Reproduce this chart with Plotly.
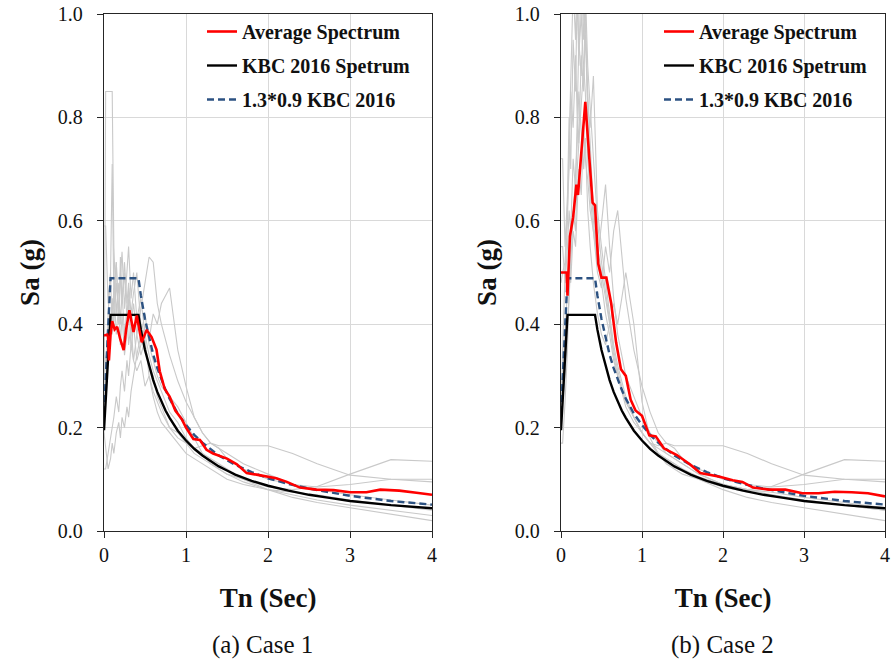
import plotly.graph_objects as go

# ---------------- data ----------------
period_grey = [0, 0.02, 0.05, 0.08, 0.1, 0.12, 0.15, 0.18, 0.2, 0.22, 0.25, 0.28, 0.3, 0.33,
               0.36, 0.4, 0.45, 0.5, 0.55, 0.6, 0.65, 0.7, 0.8, 0.9, 1.0, 1.1, 1.2, 1.3, 1.4,
               1.5, 1.7, 2.0, 2.3, 2.6, 3.0, 3.5, 4.0]

# Case 1 ground-motion records
rec1_a = [0.18, 0.85, 0.85, 0.85, 0.85, 0.55, 0.42, 0.48, 0.40, 0.46, 0.38, 0.43, 0.36, 0.40, 0.33, 0.31, 0.33, 0.28, 0.30, 0.26, 0.23, 0.21, 0.19, 0.17, 0.15, 0.14, 0.13, 0.12, 0.11, 0.10, 0.09, 0.08, 0.07, 0.06, 0.05, 0.04, 0.03]
rec1_b = [0.20, 0.30, 0.42, 0.50, 0.71, 0.45, 0.52, 0.40, 0.53, 0.44, 0.50, 0.41, 0.47, 0.40, 0.44, 0.38, 0.34, 0.37, 0.30, 0.27, 0.25, 0.23, 0.20, 0.18, 0.17, 0.16, 0.165, 0.17, 0.165, 0.165, 0.165, 0.165, 0.15, 0.13, 0.108, 0.10, 0.095]
rec1_c = [0.59, 0.59, 0.44, 0.50, 0.38, 0.46, 0.52, 0.40, 0.49, 0.54, 0.43, 0.51, 0.55, 0.45, 0.50, 0.41, 0.45, 0.38, 0.34, 0.31, 0.29, 0.27, 0.23, 0.21, 0.18, 0.16, 0.15, 0.14, 0.13, 0.12, 0.10, 0.085, 0.08, 0.086, 0.11, 0.138, 0.135]
rec1_d = [0.12, 0.12, 0.15, 0.18, 0.20, 0.22, 0.26, 0.23, 0.28, 0.31, 0.27, 0.33, 0.30, 0.36, 0.33, 0.38, 0.43, 0.48, 0.53, 0.52, 0.44, 0.40, 0.34, 0.29, 0.25, 0.22, 0.19, 0.17, 0.16, 0.14, 0.12, 0.10, 0.09, 0.085, 0.09, 0.10, 0.10]
rec1_e = [0.19, 0.16, 0.12, 0.14, 0.17, 0.15, 0.19, 0.21, 0.18, 0.22, 0.20, 0.24, 0.22, 0.27, 0.30, 0.34, 0.38, 0.42, 0.36, 0.33, 0.30, 0.28, 0.26, 0.24, 0.21, 0.18, 0.15, 0.13, 0.12, 0.11, 0.10, 0.08, 0.065, 0.055, 0.045, 0.032, 0.02]
rec1_f = [0.30, 0.33, 0.36, 0.42, 0.40, 0.47, 0.38, 0.44, 0.36, 0.42, 0.34, 0.38, 0.45, 0.35, 0.40, 0.33, 0.36, 0.40, 0.37, 0.42, 0.40, 0.44, 0.47, 0.35, 0.28, 0.22, 0.19, 0.17, 0.16, 0.15, 0.13, 0.11, 0.09, 0.08, 0.07, 0.06, 0.05]
rec1_g = [0.22, 0.28, 0.35, 0.38, 0.45, 0.40, 0.48, 0.42, 0.50, 0.45, 0.52, 0.44, 0.48, 0.42, 0.46, 0.50, 0.40, 0.36, 0.32, 0.30, 0.26, 0.24, 0.20, 0.19, 0.17, 0.15, 0.14, 0.13, 0.12, 0.11, 0.095, 0.08, 0.075, 0.07, 0.06, 0.05, 0.04]

# Case 2 ground-motion records
rec2_a = [0.72, 0.72, 0.55, 0.65, 0.80, 0.70, 0.95, 0.85, 1.05, 0.90, 1.10, 0.95, 1.02, 0.80, 0.70, 0.60, 0.52, 0.48, 0.42, 0.38, 0.33, 0.30, 0.25, 0.22, 0.19, 0.17, 0.16, 0.15, 0.14, 0.13, 0.11, 0.09, 0.08, 0.086, 0.11, 0.138, 0.135]
rec2_b = [0.20, 0.35, 0.50, 0.60, 0.75, 0.90, 1.05, 0.95, 1.10, 0.92, 1.00, 0.88, 0.96, 0.82, 0.78, 0.88, 0.62, 0.55, 0.48, 0.42, 0.36, 0.32, 0.26, 0.22, 0.19, 0.17, 0.165, 0.17, 0.165, 0.165, 0.165, 0.165, 0.15, 0.13, 0.108, 0.10, 0.095]
rec2_c = [0.17, 0.17, 0.25, 0.35, 0.48, 0.55, 0.62, 0.58, 0.70, 0.75, 0.82, 0.90, 0.85, 0.72, 0.65, 0.58, 0.52, 0.60, 0.67, 0.55, 0.45, 0.38, 0.30, 0.26, 0.22, 0.19, 0.17, 0.15, 0.14, 0.13, 0.11, 0.09, 0.08, 0.075, 0.065, 0.055, 0.045]
rec2_d = [0.25, 0.30, 0.38, 0.45, 0.52, 0.48, 0.58, 0.55, 0.62, 0.70, 0.65, 0.78, 0.72, 0.68, 0.62, 0.58, 0.50, 0.47, 0.55, 0.50, 0.58, 0.62, 0.45, 0.35, 0.28, 0.23, 0.19, 0.17, 0.16, 0.14, 0.12, 0.10, 0.09, 0.085, 0.09, 0.10, 0.10]
rec2_e = [0.20, 0.25, 0.30, 0.38, 0.45, 0.52, 0.60, 0.68, 0.75, 0.85, 0.78, 0.70, 0.76, 0.62, 0.55, 0.48, 0.42, 0.38, 0.36, 0.40, 0.44, 0.40, 0.50, 0.40, 0.25, 0.18, 0.15, 0.13, 0.12, 0.11, 0.10, 0.08, 0.065, 0.055, 0.045, 0.032, 0.02]
rec2_f = [0.48, 0.50, 0.52, 0.62, 0.70, 0.85, 0.78, 0.92, 0.80, 0.95, 0.88, 1.02, 0.98, 0.85, 0.75, 0.62, 0.55, 0.50, 0.45, 0.40, 0.34, 0.30, 0.24, 0.21, 0.19, 0.17, 0.15, 0.14, 0.13, 0.12, 0.105, 0.09, 0.08, 0.07, 0.06, 0.05, 0.04]
rec2_g = [0.55, 0.55, 0.48, 0.55, 0.62, 0.58, 0.72, 0.66, 0.80, 0.75, 0.92, 0.85, 1.05, 0.90, 0.82, 0.72, 0.60, 0.52, 0.46, 0.40, 0.35, 0.31, 0.25, 0.22, 0.19, 0.17, 0.15, 0.14, 0.13, 0.12, 0.10, 0.085, 0.075, 0.07, 0.06, 0.05, 0.04]

# Average spectra
period_avg1 = [0, 0.04, 0.05, 0.06, 0.08, 0.1, 0.13, 0.16, 0.2, 0.24, 0.27, 0.31, 0.36, 0.4, 0.43,
               0.46, 0.52, 0.58, 0.64, 0.68, 0.74, 0.8, 0.87, 0.95, 1.0, 1.09, 1.17, 1.25, 1.33,
               1.5, 1.62, 1.74, 1.86, 1.98, 2.1, 2.23, 2.39, 2.59, 2.8, 3.0, 3.2, 3.37, 3.6, 3.81, 4.0]
sa_avg1 = [0.378, 0.38, 0.375, 0.33, 0.38, 0.406, 0.39, 0.395, 0.37, 0.35, 0.39, 0.427, 0.385, 0.417,
           0.39, 0.365, 0.389, 0.375, 0.351, 0.309, 0.275, 0.26, 0.233, 0.216, 0.2, 0.178, 0.176,
           0.157, 0.15, 0.14, 0.129, 0.112, 0.109, 0.105, 0.102, 0.095, 0.084, 0.08, 0.079, 0.075,
           0.075, 0.08, 0.078, 0.074, 0.07]
period_avg2 = [0, 0.07, 0.08, 0.11, 0.15, 0.19, 0.21, 0.25, 0.3, 0.35, 0.39, 0.42, 0.46, 0.5, 0.56,
               0.62, 0.68, 0.74, 0.8, 0.86, 0.92, 1.0, 1.09, 1.17, 1.27, 1.43, 1.59, 1.72, 1.84,
               1.96, 2.12, 2.24, 2.37, 2.57, 2.77, 2.98, 3.18, 3.38, 3.59, 3.79, 4.0]
sa_avg2 = [0.5, 0.5, 0.455, 0.57, 0.607, 0.67, 0.65, 0.73, 0.83, 0.72, 0.635, 0.63, 0.517, 0.49, 0.49,
           0.44, 0.365, 0.313, 0.3, 0.254, 0.233, 0.223, 0.185, 0.183, 0.16, 0.147, 0.129, 0.112,
           0.109, 0.105, 0.098, 0.095, 0.084, 0.08, 0.08, 0.073, 0.073, 0.076, 0.075, 0.073, 0.067]

# KBC 2016 design spectrum and 1.3*0.9 scaled spectrum
period_kbc = [0, 0.08, 0.42, 0.45, 0.5, 0.55, 0.6, 0.65, 0.7, 0.75, 0.8, 0.9, 1.0, 1.1, 1.2, 1.3,
              1.4, 1.5, 1.6, 1.8, 2.0, 2.25, 2.5, 2.75, 3.0, 3.5, 4.0]
sa_kbc = [0.195, 0.418, 0.418, 0.389, 0.35, 0.318, 0.292, 0.269, 0.25, 0.233, 0.219, 0.194, 0.175,
          0.159, 0.146, 0.135, 0.125, 0.117, 0.109, 0.097, 0.0875, 0.078, 0.07, 0.064, 0.058, 0.05, 0.044]
sa_kbc_scaled = [0.228, 0.489, 0.489, 0.455, 0.41, 0.372, 0.341, 0.315, 0.293, 0.273, 0.256, 0.227,
                 0.205, 0.186, 0.171, 0.158, 0.146, 0.137, 0.128, 0.114, 0.102, 0.091, 0.082, 0.075,
                 0.068, 0.058, 0.051]

series_names = ["Average Spectrum", "KBC 2016 Spetrum", "1.3*0.9 KBC 2016"]
x_ticks = [0, 1, 2, 3, 4]
y_ticks = [0.0, 0.2, 0.4, 0.6, 0.8, 1.0]
captions = ["(a) Case 1", "(b) Case 2"]
x_title = "Tn (Sec)"
y_title = "Sa (g)"

records_case1 = [rec1_a, rec1_b, rec1_c, rec1_d, rec1_e, rec1_f, rec1_g]
records_case2 = [rec2_a, rec2_b, rec2_c, rec2_d, rec2_e, rec2_f, rec2_g]

# ---------------- figure ----------------
SERIF = "Liberation Serif, Tinos, Times New Roman, DejaVu Serif, serif"
W, H = 892, 665
fig = go.Figure()

panels = [
    dict(records=records_case1, t_avg=period_avg1, sa_avg=sa_avg1, xa="x", ya="y", legend="legend"),
    dict(records=records_case2, t_avg=period_avg2, sa_avg=sa_avg2, xa="x2", ya="y2", legend="legend2"),
]

for p in panels:
    for rec in p["records"]:
        fig.add_trace(go.Scatter(x=period_grey, y=rec, mode="lines", xaxis=p["xa"], yaxis=p["ya"],
                                 line=dict(color="#c9c9c9", width=1.1), showlegend=False,
                                 hoverinfo="skip"))
    fig.add_trace(go.Scatter(x=period_kbc, y=sa_kbc_scaled, mode="lines", name=series_names[2],
                             xaxis=p["xa"], yaxis=p["ya"], legend=p["legend"], legendrank=3,
                             legendgroup="c" + p["legend"],
                             line=dict(color="#2c5282", width=2.4, dash="7px,4px")))
    fig.add_trace(go.Scatter(x=period_kbc, y=sa_kbc, mode="lines", name=series_names[1],
                             xaxis=p["xa"], yaxis=p["ya"], legend=p["legend"], legendrank=2,
                             legendgroup="b" + p["legend"],
                             line=dict(color="#000000", width=2.4)))
    fig.add_trace(go.Scatter(x=p["t_avg"], y=p["sa_avg"], mode="lines", name=series_names[0],
                             xaxis=p["xa"], yaxis=p["ya"], legend=p["legend"], legendrank=1,
                             legendgroup="a" + p["legend"],
                             line=dict(color="#ff0000", width=2.6)))

y_dom = [(H - 531) / H, (H - 14) / H]
x_doms = [[104 / W, 432 / W], [561 / W, 885 / W]]

axis_common = dict(showgrid=True, gridcolor="#d9d9d9", gridwidth=1, zeroline=False,
                   showline=True, linecolor="#262626", linewidth=1.4, mirror=True,
                   ticks="outside", ticklen=6, tickwidth=1.2, tickcolor="#262626",
                   tickfont=dict(family=SERIF, size=20, color="#111111"), automargin=False,
                   ticklabeloverflow="allow")

for i, (xa, ya) in enumerate([("xaxis", "yaxis"), ("xaxis2", "yaxis2")]):
    anchor_y = "y" if i == 0 else "y2"
    anchor_x = "x" if i == 0 else "x2"
    fig.update_layout(**{
        xa: dict(axis_common, domain=x_doms[i], range=[0, 4], tickvals=x_ticks,
                 ticktext=[str(v) for v in x_ticks], anchor=anchor_y,
                 title=dict(text=x_title, standoff=22,
                            font=dict(family=SERIF, size=27, weight="bold", color="#111111"))),
        ya: dict(axis_common, domain=y_dom, range=[0, 1], tickvals=y_ticks,
                 ticktext=["%.1f" % v for v in y_ticks], anchor=anchor_x, ticklabelstandoff=10,
                 title=dict(text=y_title, standoff=10,
                            font=dict(family=SERIF, size=27, weight="bold", color="#111111"))),
    })

legend_common = dict(bgcolor="rgba(0,0,0,0)", borderwidth=0, xanchor="left", yanchor="top",
                     traceorder="grouped", tracegroupgap=5, itemwidth=30,
                     font=dict(family=SERIF, size=20, weight="bold", color="#111111"))
fig.update_layout(
    legend=dict(legend_common, x=202 / W, y=1 - 12 / H),
    legend2=dict(legend_common, x=659 / W, y=1 - 12 / H),
)

caption_x = [262 / W, 722 / W]
for cx, text in zip(caption_x, captions):
    fig.add_annotation(text=text, xref="paper", yref="paper", x=cx, y=(H - 645) / H,
                       xanchor="center", yanchor="middle", showarrow=False,
                       font=dict(family=SERIF, size=25, color="#111111"))

fig.update_layout(width=W, height=H, margin=dict(l=0, r=0, t=0, b=0),
                  paper_bgcolor="white", plot_bgcolor="white")

fig.write_html("out.html")
